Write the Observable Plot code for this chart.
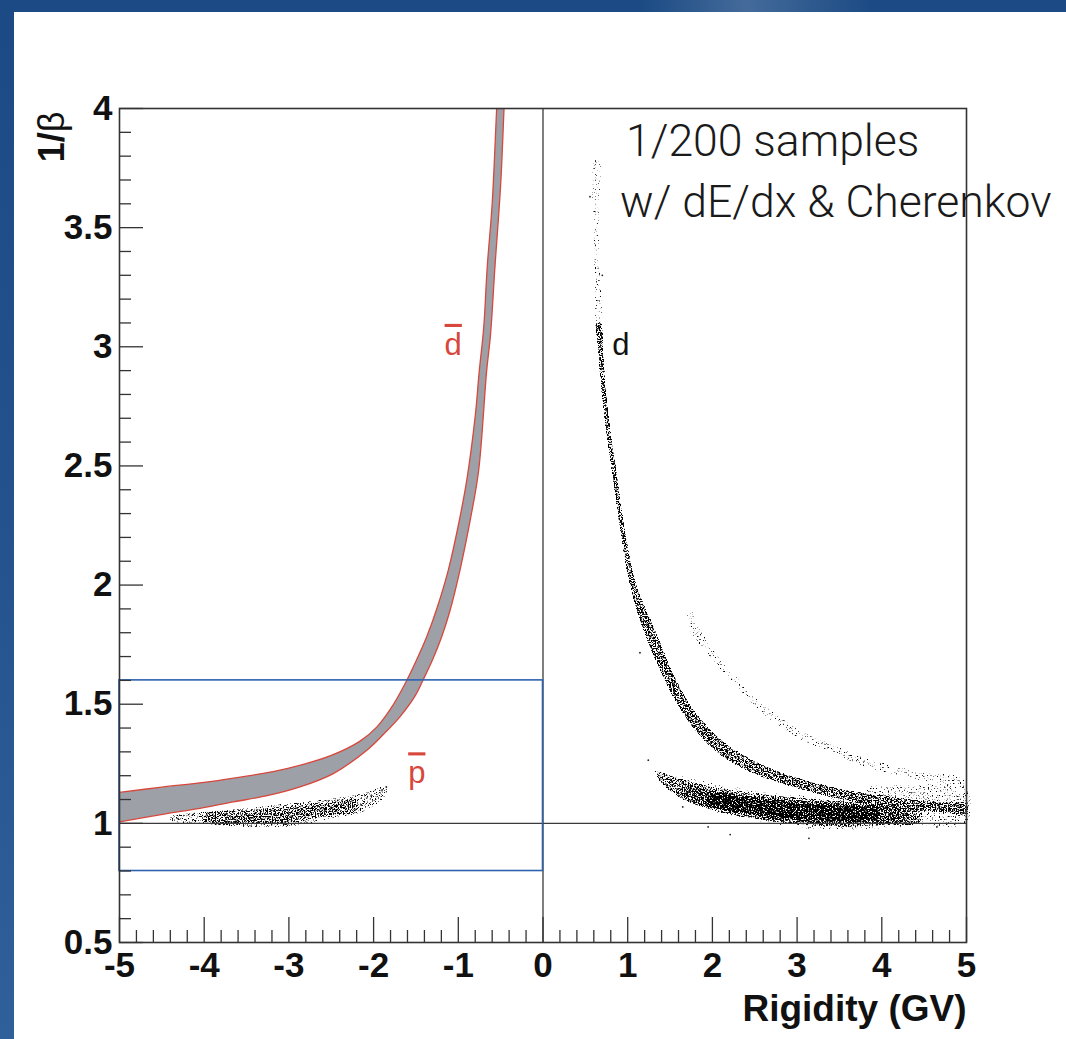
<!DOCTYPE html>
<html>
<head>
<meta charset="utf-8">
<script src="https://cdn.jsdelivr.net/npm/d3@7"></script>
<script src="https://cdn.jsdelivr.net/npm/@observablehq/plot@0.6"></script>
<style>
  html, body { margin: 0; padding: 0; }
  body {
    width: 1066px; height: 1039px; overflow: hidden; position: relative;
    background:
      linear-gradient(90deg, rgba(255,255,255,0) 0%, rgba(255,255,255,0) 60%, rgba(255,255,255,0.18) 70%, rgba(255,255,255,0) 82%),
      linear-gradient(180deg, #1b4a84 0%, #23528c 50%, #30609a 100%);
  }
  #panel { position: absolute; left: 14px; top: 12px; right: 0; bottom: 0; background: #fff; }
  #chart { position: absolute; left: 0; top: 0; }
</style>
</head>
<body>
<div id="panel"></div>
<div id="chart"></div>
<script>
// Axis ticks
const rigidityTicks = [-5, -4, -3, -2, -1, 0, 1, 2, 3, 4, 5];
const rigidityMinor = d3.range(-50, 51, 2).filter(v => v % 10 !== 0).map(v => v / 10);
const invBetaTicks = [0.5, 1, 1.5, 2, 2.5, 3, 3.5, 4];
const invBetaMinor = d3.range(5, 41).filter(v => v % 5 !== 0).map(v => v / 10);

// Anti-deuteron acceptance band: [rigidity (GV), 1/beta]
const dbarOuterEdge = [
  [-5.0, 1.13], [-4.5, 1.152], [-4.0, 1.172], [-3.5, 1.198], [-3.0, 1.232], [-2.5, 1.285],
  [-2.16, 1.345], [-1.96, 1.405], [-1.8, 1.48], [-1.63, 1.585], [-1.5, 1.68], [-1.373, 1.783],
  [-1.25, 1.905], [-1.118, 2.063], [-1.0, 2.25], [-0.9, 2.44], [-0.8, 2.71], [-0.752, 2.90],
  [-0.7, 3.08], [-0.658, 3.337], [-0.6, 3.6], [-0.547, 4.0], [-0.53, 4.12]
];
const dbarInnerEdge = [
  [-0.445, 4.12], [-0.46, 4.0], [-0.5, 3.68], [-0.567, 3.337], [-0.62, 3.05], [-0.665, 2.90], [-0.759, 2.483],
  [-0.85, 2.29], [-0.98, 2.063], [-1.1, 1.89], [-1.196, 1.783], [-1.3, 1.69], [-1.413, 1.604],
  [-1.51, 1.535], [-1.69, 1.447], [-1.88, 1.375], [-2.08, 1.307], [-2.476, 1.209], [-2.87, 1.153],
  [-3.27, 1.115], [-3.66, 1.09], [-4.05, 1.063], [-4.44, 1.041], [-4.75, 1.022], [-5.0, 1.006]
];

// Deuteron sample cloud outline (inner edge, then outer edge back up)
const deuteronInner = [
  [0.625, 3.1], [0.645, 3.0], [0.69, 2.8], [0.74, 2.65], [0.81, 2.48], [0.90, 2.25], [1.01, 2.02],
  [1.11, 1.885], [1.22, 1.775], [1.35, 1.665], [1.52, 1.54], [1.76, 1.405], [2.06, 1.295],
  [2.40, 1.222], [2.76, 1.172], [3.15, 1.132], [3.62, 1.093], [4.14, 1.066], [4.72, 1.045], [5.0, 1.04]
];
const deuteronOuter = [
  [5.0, 1.085], [4.72, 1.09], [4.14, 1.112], [3.62, 1.138], [3.15, 1.178], [2.76, 1.222],
  [2.40, 1.282], [2.10, 1.352], [1.80, 1.467], [1.57, 1.605], [1.42, 1.73], [1.30, 1.835],
  [1.18, 1.93], [1.09, 2.02], [0.96, 2.25], [0.87, 2.48], [0.80, 2.65], [0.75, 2.8], [0.71, 3.0], [0.69, 3.1]
];
const deuteronTop = [
  [0.60, 3.78], [0.595, 3.5], [0.615, 3.2], [0.625, 3.08], [0.69, 3.08], [0.675, 3.3], [0.665, 3.55], [0.665, 3.78]
];

// Faint upper track
const heavyInner = [
  [1.70, 1.88], [1.74, 1.80], [1.86, 1.745], [1.99, 1.69], [2.12, 1.635], [2.28, 1.58], [2.40, 1.525],
  [2.56, 1.47], [2.72, 1.425], [2.95, 1.37], [3.15, 1.33], [3.35, 1.30], [3.59, 1.265], [3.82, 1.235],
  [4.13, 1.205], [4.53, 1.175], [5.0, 1.15]
];
const heavyOuter = [
  [5.0, 1.19], [4.53, 1.215], [4.13, 1.243], [3.82, 1.275], [3.59, 1.305], [3.35, 1.342], [3.15, 1.372],
  [2.95, 1.412], [2.72, 1.47], [2.56, 1.512], [2.40, 1.568], [2.28, 1.62], [2.12, 1.68], [2.01, 1.73],
  [1.89, 1.795], [1.80, 1.85], [1.76, 1.89]
];

// Proton sample cloud: sparse halo, body, core and densest centre
const protonHalo = [
  [1.3, 1.22], [1.5, 1.21], [2.0, 1.17], [2.5, 1.14], [3.0, 1.12], [3.5, 1.105], [4.0, 1.095], [4.5, 1.085], [5.0, 1.08],
  [5.0, 1.0], [4.5, 0.99], [4.0, 0.975], [3.5, 0.97], [3.0, 0.98], [2.5, 1.01], [2.0, 1.05], [1.5, 1.13], [1.3, 1.2]
];
const protonBody = [
  [1.35, 1.215], [1.6, 1.19], [2.0, 1.155], [2.5, 1.128], [3.0, 1.11], [3.5, 1.095], [4.0, 1.085], [4.45, 1.07],
  [4.45, 1.005], [4.0, 0.99], [3.5, 0.985], [3.0, 0.995], [2.5, 1.018], [2.0, 1.055], [1.6, 1.11], [1.35, 1.19]
];
const protonCore = [
  [1.65, 1.16], [2.0, 1.138], [2.5, 1.115], [3.0, 1.098], [3.5, 1.085], [4.0, 1.074], [4.3, 1.06],
  [4.3, 1.012], [4.0, 0.998], [3.5, 0.995], [3.0, 1.005], [2.5, 1.027], [2.0, 1.064], [1.65, 1.11]
];
const protonCentre = [
  [1.95, 1.118], [2.5, 1.1], [3.0, 1.087], [3.5, 1.076], [3.95, 1.064],
  [3.95, 1.018], [3.5, 1.008], [3.0, 1.018], [2.5, 1.038], [1.95, 1.078]
];
const protonTail = [
  [3.8, 1.15], [4.3, 1.16], [5.0, 1.15], [5.0, 1.0], [4.3, 1.0], [3.8, 1.05]
];

// Negative-rigidity sample cloud
const pbarHalo = [
  [-4.4, 1.03], [-4.0, 1.05], [-3.5, 1.065], [-3.0, 1.085], [-2.5, 1.105], [-2.1, 1.13], [-1.85, 1.155],
  [-1.85, 1.12], [-2.1, 1.05], [-2.5, 1.02], [-3.0, 0.985], [-3.5, 0.985], [-4.0, 0.995], [-4.4, 1.01]
];
const pbarCore = [
  [-4.0, 1.04], [-3.5, 1.055], [-3.0, 1.07], [-2.5, 1.09], [-2.2, 1.1],
  [-2.2, 1.05], [-2.5, 1.035], [-3.0, 1.0], [-3.5, 0.995], [-4.0, 1.005]
];

// Isolated hits
const strayHits = [
  [1.145, 1.716], [1.243, 1.265], [1.65, 1.069], [1.95, 0.985], [2.21, 0.953], [3.14, 0.937],
  [4.65, 0.985], [0.555, 3.63], [0.70, 3.3], [-4.31, 1.02], [-1.85, 1.153], [-1.9, 1.14]
];

// Selection window
const selectionBox = [{r1: -5, r2: 0, b1: 0.8, b2: 1.6}];

// Annotations
const noteLines = [
  {text: "1/200 samples", r: 0.98, b: 3.80},
  {text: "w/ dE/dx & Cherenkov", r: 0.91, b: 3.546}
];
const particleLabels = [
  {text: "d", r: -1.06, b: 2.966, color: "#d8473b", bar: true},
  {text: "p", r: -1.49, b: 1.168, color: "#d8473b", bar: true},
  {text: "d", r: 0.92, b: 2.966, color: "#111", bar: false}
];

const W = 1066, H = 1039;
const px = d => d[0], py = d => d[1];
// filled outline whose alpha sets the hit density once the stipple filter is applied
const cloud = (pts, a, kind = "cloud") => Plot.line(pts, {
  x: px, y: py, curve: "catmull-rom-closed", fill: "black", fillOpacity: a, stroke: "none", ariaDescription: kind
});

const chart = Plot.plot({
  width: W, height: H,
  marginLeft: 119, marginRight: 100, marginTop: 108, marginBottom: 97,
  x: {domain: [-5, 5]},
  y: {domain: [0.5, 4]},
  style: {background: "transparent", fontFamily: "'Liberation Sans', Arial, sans-serif", overflow: "visible", color: "#111"},
  marks: [
    // sample clouds
    cloud(protonHalo, 0.63),
    cloud(protonTail, 0.66),
    cloud(protonBody, 0.88),
    cloud(protonCore, 1.0),
    cloud(protonCentre, 1.0, "cloud-dense"),
    cloud(heavyInner.concat(heavyOuter), 0.65),
    cloud(deuteronTop, 0.64),
    cloud(deuteronInner.concat(deuteronOuter), 0.92),
    cloud(pbarHalo, 0.74),
    cloud(pbarCore, 0.9),
    Plot.dot(strayHits, {x: px, y: py, r: 0.9, fill: "#222", stroke: "none"}),

    // anti-deuteron band
    Plot.line(dbarOuterEdge.concat(dbarInnerEdge), {x: px, y: py, curve: "catmull-rom", fill: "#9da1a7", stroke: "none", clip: true}),
    Plot.line(dbarOuterEdge, {x: px, y: py, curve: "catmull-rom", stroke: "#d8473b", strokeWidth: 1.3, clip: true}),
    Plot.line(dbarInnerEdge, {x: px, y: py, curve: "catmull-rom", stroke: "#d8473b", strokeWidth: 1.3, clip: true}),

    // reference lines and selection window
    Plot.ruleX([0], {stroke: "#3a3a3a", strokeWidth: 1.3}),
    Plot.ruleY([1], {stroke: "#3a3a3a", strokeWidth: 1.3}),
    Plot.rect(selectionBox, {x1: "r1", x2: "r2", y1: "b1", y2: "b2", fill: "none", stroke: "#2d62b0", strokeWidth: 1.6}),
    Plot.frame({stroke: "#333", strokeWidth: 1.6}),

    // ticks drawn inward
    Plot.axisX(rigidityTicks, {tickSize: -25, tickFormat: () => "", stroke: "#333", strokeWidth: 1.3, label: null}),
    Plot.axisX(rigidityMinor, {tickSize: -12, tickFormat: () => "", stroke: "#333", strokeWidth: 1.3, label: null}),
    Plot.axisY(invBetaTicks, {tickSize: -24, tickFormat: () => "", stroke: "#333", strokeWidth: 1.3, label: null}),
    Plot.axisY(invBetaMinor, {tickSize: -12, tickFormat: () => "", stroke: "#333", strokeWidth: 1.3, label: null}),

    // tick labels
    Plot.axisX(rigidityTicks, {tickSize: 0, tickPadding: 10, tickFormat: d => String(d), fontSize: 35, fontWeight: "bold", label: null}),
    Plot.axisY(invBetaTicks, {tickSize: 0, tickPadding: 7, tickFormat: d => String(d), fontSize: 35, fontWeight: "bold", label: null}),

    // axis titles
    Plot.text(["Rigidity (GV)"], {frameAnchor: "bottom-right", textAnchor: "end", lineAnchor: "bottom", dy: 78, fontSize: 37, fontWeight: "bold", fill: "#111"}),
    Plot.text(["1/β"], {frameAnchor: "top-left", rotate: -90, textAnchor: "end", lineAnchor: "bottom", dx: -56, dy: 3, fontSize: 36, fontWeight: "bold", fill: "#111", ariaDescription: "ytitle"}),

    // annotations
    Plot.text(noteLines, {x: "r", y: "b", text: "text", textAnchor: "start", lineAnchor: "bottom", fontSize: 44.5, fontWeight: 300, fontFamily: "Roboto, 'Liberation Sans', sans-serif", fill: "#1a1a1a"}),
    Plot.text(particleLabels.filter(d => d.bar), {x: "r", y: "b", text: "text", fill: "color", textAnchor: "middle", lineAnchor: "bottom", fontSize: 31, ariaDescription: "barred"}),
    Plot.text(particleLabels.filter(d => !d.bar), {x: "r", y: "b", text: "text", fill: "color", textAnchor: "middle", lineAnchor: "bottom", fontSize: 31})
  ]
});

// stipple textures so the filled sample clouds render as scattered hits
const svg = d3.select(chart);
const defs = svg.insert("defs", ":first-child");
function stipple(id, threshold) {
  const flt = defs.append("filter").attr("id", id)
    .attr("filterUnits", "userSpaceOnUse").attr("x", 0).attr("y", 0).attr("width", W).attr("height", H)
    .attr("color-interpolation-filters", "sRGB");
  flt.append("feTurbulence").attr("type", "fractalNoise").attr("baseFrequency", 0.75).attr("numOctaves", 2).attr("seed", 11).attr("result", "noise");
  flt.append("feColorMatrix").attr("in", "noise").attr("type", "matrix")
    .attr("values", "0 0 0 0 0  0 0 0 0 0  0 0 0 0 0  1 0 0 0 0").attr("result", "grain");
  flt.append("feComposite").attr("in", "grain").attr("in2", "SourceAlpha").attr("operator", "arithmetic")
    .attr("k1", 1).attr("k2", 0).attr("k3", 0).attr("k4", 0).attr("result", "masked");
  flt.append("feComponentTransfer").attr("in", "masked")
    .append("feFuncA").attr("type", "linear").attr("slope", 10).attr("intercept", -10 * threshold);
}
stipple("stipple", 0.4);
stipple("stipple-dense", 0.32);
svg.selectAll('[aria-description="cloud"]').attr("filter", "url(#stipple)");
svg.selectAll('[aria-description="cloud-dense"]').attr("filter", "url(#stipple-dense)");

// overbars for antiparticle labels
svg.selectAll('[aria-description="barred"] text').style("text-decoration", "overline");

// beta in the y title set in regular weight
svg.selectAll('[aria-description="ytitle"] text').each(function () {
  const t = d3.select(this);
  t.text("1/");
  t.append("tspan").attr("font-weight", "normal").text("β");
});

document.getElementById("chart").appendChild(chart);
</script>
</body>
</html>
